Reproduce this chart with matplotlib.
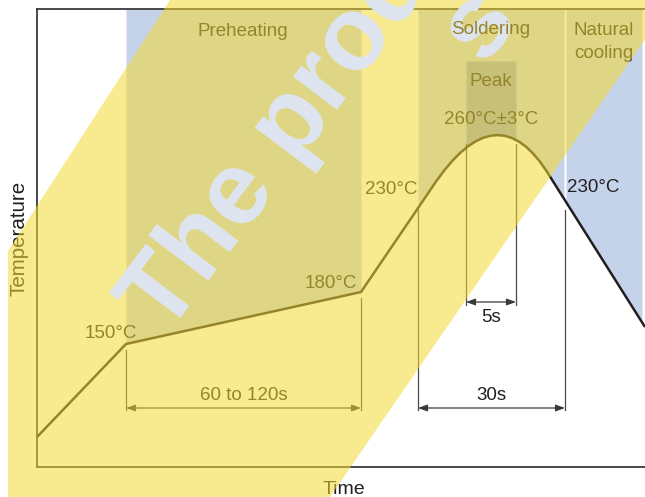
import numpy as np
import matplotlib.pyplot as plt
from matplotlib.path import Path
from matplotlib.patches import Polygon

plt.rcParams['font.family'] = ['Liberation Sans', 'DejaVu Sans']

# schematic profile (time units, temperature units of the drawing)
line_t = [0, 89, 324, 396]
line_y = [30, 123, 175, 281]
peak_ctrl_t, peak_ctrl_y = 460, 377
fall_t = [512, 608]
fall_y = [292, 140]

# zones shaded above the curve
preheat_zone = (89, 324)
solder_zone = (381, 527)
cooling_zone = (529, 605)
peak_zone = (429, 479)
peak_top = 406
top_y = 458

# dimension marks: (x, y_from, y_to)
guides = [(89, 117, 57), (324, 169, 57), (381, 257, 57),
          (429, 323, 162), (479, 323, 162), (528, 257, 57)]
spans = [(89, 324, 59, '60 to 120s', 72),
         (381, 528, 59, '30s', 72),
         (429, 479, 165, '5s', 150)]

# watermark band, figure pixels
band_x = [170, 672, 330, 8, 8]
band_y = [0, 0, 497, 497, 251]

ink = '#231f20'
ink_under_band = (150 / 255, 133 / 255, 42 / 255)
blue = '#c5d3ea'
peak_blue = '#91a3cd'

fig = plt.figure(figsize=(6.45, 4.97), dpi=100)
ax = fig.add_axes([37 / 645, 30 / 497, 608 / 645, 458 / 497], zorder=1)
ax.set_xlim(0, 608)
ax.set_ylim(0, 458)

verts = list(zip(line_t, line_y)) + [(peak_ctrl_t, peak_ctrl_y), (fall_t[0], fall_y[0]), (fall_t[1], fall_y[1])]
codes = [Path.MOVETO] + [Path.LINETO] * (len(line_t) - 1) + [Path.CURVE3, Path.CURVE3, Path.LINETO]
curve = Path(verts, codes).to_polygons(closed_only=False)[0]
cx, cy = curve[:, 0], curve[:, 1]


def shade(zone, top, color):
    xs = np.linspace(zone[0], zone[1], 120)
    ax.fill_between(xs, np.interp(xs, cx, cy), top, color=color, lw=0, zorder=1)


shade(preheat_zone, top_y, blue)
shade(solder_zone, top_y, blue)
shade(cooling_zone, top_y, blue)
shade(peak_zone, peak_top, peak_blue)

ax.plot(cx, cy, color=ink, lw=1.8, zorder=4, solid_capstyle='butt')

for gx, y0, y1 in guides:
    ax.plot([gx, gx], [y0, y1], color='#4a4a4a', lw=0.9, zorder=3)

for x0, x1, ya, label, yt in spans:
    ax.annotate('', xy=(x0, ya), xytext=(x1, ya),
                arrowprops=dict(arrowstyle='<|-|>,head_length=0.55,head_width=0.2',
                                color='#3a3a3a', lw=0.9, shrinkA=0, shrinkB=0))
    ax.text((x0 + x1) / 2, yt, label, ha='center', va='center', fontsize=13.5, color=ink)

labels = [
    (206, 436, 'Preheating', 'center'),
    (567, 425, 'Natural\ncooling', 'center'),
    (454, 386, 'Peak', 'center'),
    (454, 348, '260°C±3°C', 'center'),
    (380, 278, '230°C', 'right'),
    (530, 279, '230°C', 'left'),
    (320, 184, '180°C', 'right'),
    (48, 133, '150°C', 'left'),
]
for x, y, s, ha in labels:
    ax.text(x, y, s, ha=ha, va='center', fontsize=13.5, color=ink, linespacing=1.4, zorder=5)

ax.text(-18, 229, 'Temperature', rotation=90, ha='center', va='center',
        fontsize=14.8, color=ink, clip_on=False)
ax.text(307, -22, 'Time', ha='center', va='center', fontsize=14, color=ink, clip_on=False)

ax.set_xticks([])
ax.set_yticks([])
ax.spines['right'].set_visible(False)
for side in ['left', 'bottom', 'top']:
    ax.spines[side].set_color('#3a3a3a')
    ax.spines[side].set_linewidth(1.3)

# translucent watermark over the whole figure
ov = fig.add_axes([0, 0, 1, 1], zorder=5)
ov.set_xlim(0, 645)
ov.set_ylim(497, 0)
ov.axis('off')
ov.patch.set_alpha(0)
ov.add_patch(Polygon(np.column_stack([band_x, band_y]), closed=True,
                     facecolor=(244 / 255, 217 / 255, 50 / 255), alpha=0.55, lw=0))
mark = dict(rotation=53, rotation_mode='anchor', ha='left', va='baseline',
            fontsize=75, fontweight='bold', color='#dfe5f1')
ov.text(166, 337, 'The product', **mark)
ov.text(484, 64, 's', **mark)

# this label sits over the watermark in the original
ov.text(491, 30, 'Soldering', ha='center', va='center', fontsize=13.5, color=ink_under_band)

fig.savefig('out.png', dpi=100)
